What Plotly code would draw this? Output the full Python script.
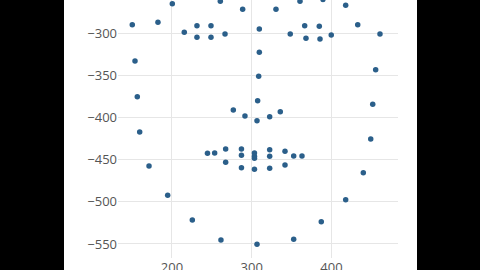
import plotly.graph_objects as go

# Face landmark points (x, y)
xs = [150.2, 153.6, 156.5, 159.5, 171.2, 194.6, 225.5, 261.4, 306.6, 352.6, 387.2, 417.8, 439.9, 449.2, 451.7, 455.4, 460.8,
      182.4, 200.4, 260.6, 288.6, 330.4, 360.5, 389.3, 417.8, 432.9,
      215.4, 231.3, 231.3, 248.9, 248.9, 266.5,
      348.3, 366.4, 368.0, 384.7, 385.6, 399.7,
      309.5, 309.5, 308.7, 307.4, 276.9, 291.5, 306.6, 322.5, 335.8,
      244.5, 253.5, 267.3, 267.3, 287.1, 287.1, 287.1, 303.4, 303.4, 303.4, 303.4,
      322.5, 322.5, 322.5, 341.7, 341.7, 352.6, 363.0]
ys = [-290.2, -333.2, -375.5, -417.3, -457.6, -492.3, -521.6, -545.3, -550.4, -544.4, -523.6, -497.5, -465.5, -425.6, -384.5, -343.5, -301.2,
      -287.3, -265.3, -262.4, -271.9, -271.9, -262.4, -260.3, -267.2, -290.2,
      -299.2, -291.4, -305.1, -291.4, -305.1, -301.2,
      -301.2, -291.4, -306.3, -292.1, -307.1, -302.4,
      -295.3, -322.9, -351.3, -380.2, -391.2, -398.3, -403.9, -399.2, -393.2,
      -442.5, -442.2, -437.4, -453.2, -437.4, -444.9, -459.6, -442.2, -446.1, -448.5, -461.5,
      -438.3, -446.1, -460.3, -440.2, -456.4, -445.7, -445.7]

x_ticks = [200, 300, 400]
y_ticks = [-300, -350, -400, -450, -500, -550]

fig = go.Figure(go.Scatter(
    x=xs, y=ys, mode="markers",
    marker=dict(color="#2b5f8a", size=5.5),
))

fig.add_shape(type="rect", xref="paper", yref="paper",
              x0=(64 - 118) / 280, x1=(417 - 118) / 280, y0=-0.3, y1=1.2,
              fillcolor="white", line=dict(width=0), layer="below")

fig.update_layout(
    width=480, height=270,
    margin=dict(l=118, r=82, t=0, b=12),
    paper_bgcolor="black", plot_bgcolor="white",
    showlegend=False,
    font=dict(family="Open Sans", size=13, color="#555"),
    xaxis=dict(range=[132.3, 483.4], tickvals=x_ticks, showgrid=True, gridcolor="#e6e6e6",
               zeroline=False, showline=False, ticks="", automargin=False),
    yaxis=dict(range=[-566.6, -260.9], tickvals=y_ticks, showgrid=True, gridcolor="#e6e6e6",
               zeroline=False, showline=False, ticks="", automargin=False),
)

fig.write_html("out.html")
